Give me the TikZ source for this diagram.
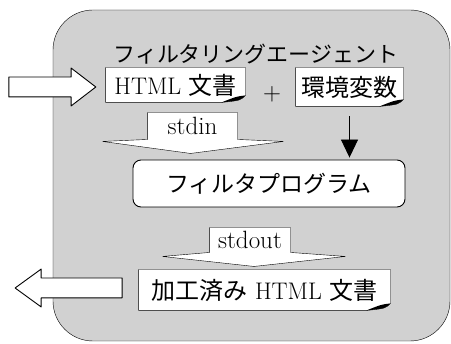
\documentclass[tikz,border=0pt]{standalone}
\usepackage{fontspec}
\newfontfamily\jp{Noto Sans CJK JP}
\usetikzlibrary{shapes.arrows,arrows.meta,backgrounds}

\definecolor{tone}{gray}{0.82}

% sheet of paper with a curled lower right corner
\newcommand{\docsheet}[1]{%
  \draw[fill=white] (#1.north west) -- (#1.north east) -- ([yshift=7pt]#1.south east)
    .. controls ([xshift=-5pt,yshift=2pt]#1.south east) .. ([xshift=-24pt]#1.south east)
    -- (#1.south west) -- cycle;
  \fill ([yshift=7pt]#1.south east) .. controls ([xshift=-9pt,yshift=6pt]#1.south east)
    .. ([xshift=-24pt]#1.south east) .. controls ([xshift=-5pt,yshift=2pt]#1.south east) .. cycle;
}

\begin{document}
\begin{tikzpicture}[x=1pt,y=-1pt,line join=round,line width=.9pt]
	\tikzset{
		sheet/.style={inner sep=0pt,font=\fontsize{24}{28}\selectfont},
		pipe/.style={inner sep=0pt,font=\fontsize{25}{28}\selectfont},
		bigarrow/.style={draw,fill=white,single arrow,inner sep=0pt,inner ysep=9.5pt,
			minimum width=0pt,single arrow head extend=9pt,single arrow head indent=0pt}
	}
	\useasboundingbox (0,0) rectangle (451,344);
	% labels and boxes
	\node[font=\fontsize{22}{26}\selectfont\jp] (title) at (256,54) {フィルタリングエージェント};
	\node[sheet,minimum width=139pt,minimum height=34pt] (doc) at (175.5,85) {HTML {\jp 文書}};
	\node[font=\fontsize{24}{28}\selectfont] (plus) at (272,94) {$+$};
	\node[sheet,minimum width=107pt,minimum height=38pt] (env) at (349.5,87) {\jp 環境変数};
	\node[pipe,minimum width=89pt,minimum height=26pt] (stdin) at (192.5,126) {stdin};
	\node[draw,fill=white,rounded corners=8pt,minimum width=272pt,minimum height=47pt,
		font=\fontsize{23}{26}\selectfont\jp] (prog) at (269,183.5) {フィルタプログラム};
	\node[pipe,minimum width=80pt,minimum height=24pt] (stdout) at (250,240) {stdout};
	\node[sheet,minimum width=251pt,minimum height=40pt] (out) at (264.5,290) {{\jp 加工済み} HTML {\jp 文書}};
	% input and output
	\node[bigarrow,minimum height=87pt,single arrow tip angle=75,anchor=tip] (inarrow) at ([xshift=-9pt,yshift=-2pt]doc.west) {};
	\node[bigarrow,minimum height=107pt,single arrow tip angle=72,shape border rotate=180,anchor=tail] (outarrow) at ([xshift=-16pt,yshift=2pt]out.west) {};
	\draw[-{Triangle[length=18pt,width=17pt]},shorten <=10pt,shorten >=2pt] (env.south) -- (env.south |- prog.north);
	\begin{pgfonlayer}{background}
		\draw[fill=tone,rounded corners=40pt] (53,10) rectangle (450,341);
		\docsheet{doc}
		\docsheet{env}
		\docsheet{out}
		\draw[fill=white] (stdin.north west) -- (stdin.north east) -- (stdin.south east) -- ++(46,2)
			-- ([shift={(-2,14)}]stdin.south) -- ([shift={(-45,2)}]stdin.south west) -- (stdin.south west) -- cycle;
		\draw[fill=white] (stdout.north west) -- (stdout.north east) -- (stdout.south east) -- ++(55,4)
			-- ([shift={(4,14)}]stdout.south) -- ([shift={(-47,4)}]stdout.south west) -- (stdout.south west) -- cycle;
	\end{pgfonlayer}
\end{tikzpicture}
\end{document}
